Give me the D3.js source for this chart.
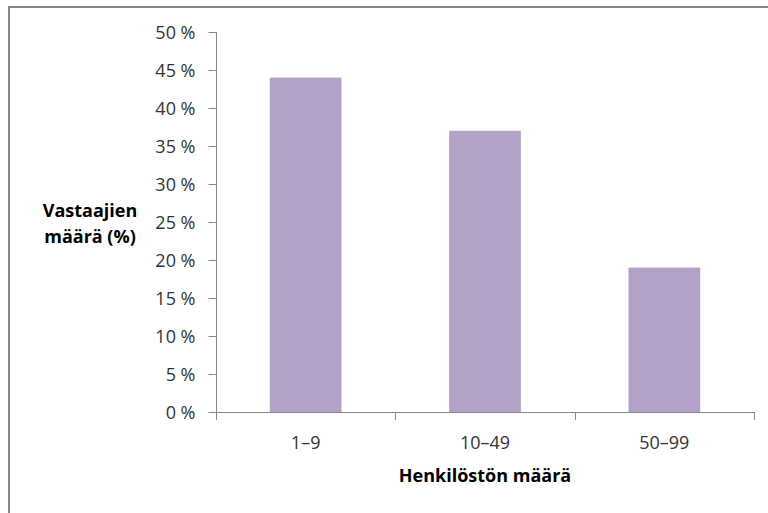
<!DOCTYPE html>
<html>
<head>
<meta charset="utf-8">
<script src="https://cdn.jsdelivr.net/npm/d3@7"></script>
<style>
  html, body { margin: 0; padding: 0; background: #fff; }
  svg { display: block; }
  text { font-family: "Open Sans", sans-serif; }
</style>
</head>
<body>
<svg id="chart" width="768" height="513"></svg>
<script>
// Company size classes and share of respondents in each
const categories = ["1–9", "10–49", "50–99"];
const shares = [44, 37, 19];
const yTicks = [0, 5, 10, 15, 20, 25, 30, 35, 40, 45, 50];
const xTitle = "Henkilöstön määrä";
const yTitleLines = ["Vastaajien", "määrä (%)"];

const svg = d3.select("#chart");

// Outer chart frame (extends past the lower right edge of the view)
svg.append("rect")
  .attr("x", 9).attr("y", 7)
  .attr("width", 800).attr("height", 560)
  .attr("fill", "#fff")
  .attr("stroke", "#868686")
  .attr("stroke-width", 2);

const plot = { left: 216, right: 754, top: 32, bottom: 412 };

const x = d3.scaleBand()
  .domain(categories)
  .range([plot.left, plot.right])
  .paddingInner(0.6)
  .paddingOuter(0.3);

const y = d3.scaleLinear()
  .domain([0, 50])
  .range([plot.bottom, plot.top]);

// Bars
svg.append("g")
  .selectAll("rect")
  .data(categories.map((c, i) => ({ c, v: shares[i] })))
  .join("rect")
  .attr("x", d => x(d.c))
  .attr("y", d => y(d.v))
  .attr("width", x.bandwidth())
  .attr("height", d => y(0) - y(d.v))
  .attr("fill", "#b3a2c7");

// Y axis
const yAxis = svg.append("g")
  .attr("transform", `translate(${plot.left + 0.5},0)`)
  .call(d3.axisLeft(y).tickValues(yTicks).tickSize(8).tickPadding(13)
    .tickFormat(d => d + " %"));
yAxis.select(".domain").attr("stroke", "#868686").attr("d", `M0,${plot.top}V${plot.bottom}`);
yAxis.selectAll(".tick line").attr("stroke", "#868686");
yAxis.selectAll(".tick text")
  .attr("fill", "#333")
  .style("font-size", "18px")
  .attr("dy", "0.36em");

// X axis with boundary ticks between categories
const boundaries = d3.range(categories.length + 1)
  .map(i => plot.left + i * (plot.right - plot.left) / categories.length);
const xAxisG = svg.append("g");
xAxisG.append("line")
  .attr("x1", plot.left).attr("x2", plot.right)
  .attr("y1", plot.bottom + 0.5).attr("y2", plot.bottom + 0.5)
  .attr("stroke", "#868686");
xAxisG.selectAll("line.b")
  .data(boundaries)
  .join("line")
  .attr("class", "b")
  .attr("x1", d => Math.round(d) + 0.5).attr("x2", d => Math.round(d) + 0.5)
  .attr("y1", plot.bottom).attr("y2", plot.bottom + 8)
  .attr("stroke", "#868686");
xAxisG.selectAll("text")
  .data(categories)
  .join("text")
  .attr("x", d => x(d) + x.bandwidth() / 2)
  .attr("y", 449)
  .attr("text-anchor", "middle")
  .attr("fill", "#333")
  .style("font-size", "18px")
  .text(d => d);

// Axis titles
svg.append("text")
  .attr("x", (plot.left + plot.right) / 2)
  .attr("y", 482)
  .attr("text-anchor", "middle")
  .attr("fill", "#000")
  .style("font-size", "18px")
  .style("font-weight", "bold")
  .text(xTitle);

svg.append("text")
  .attr("x", 90)
  .attr("text-anchor", "middle")
  .attr("fill", "#000")
  .style("font-size", "18px")
  .style("font-weight", "bold")
  .selectAll("tspan")
  .data(yTitleLines)
  .join("tspan")
  .attr("x", 90)
  .attr("y", (d, i) => 217 + i * 26)
  .text(d => d);
</script>
</body>
</html>
